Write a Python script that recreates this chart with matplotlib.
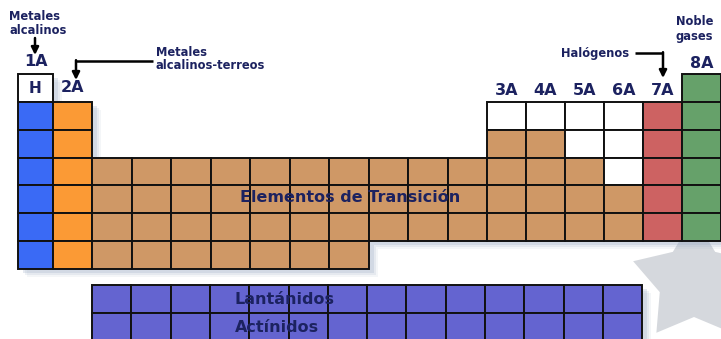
import numpy as np
import matplotlib
matplotlib.use("Agg")
import matplotlib.pyplot as plt
from matplotlib.patches import Rectangle, Polygon

# ---------------- data ----------------
group_labels = ["1A", "2A", "3A", "4A", "5A", "6A", "7A", "8A"]
group_columns = [0, 1, 12, 13, 14, 15, 16, 17]

# category of each cell (period rows x 18 columns)
periods = [
    "w................g",
    "ae..........wwwwxg",
    "ae..........mmwwxg",
    "aettttttttttmmmwxg",
    "aettttttttttmmmmxg",
    "aettttttttttmmmmxg",
    "aettttttt.........",
]
f_block_rows = ["Lantánidos", "Actínidos"]
f_block_cells = 14

category_colors = {
    "w": "#ffffff",  # hydrogen / non-metals
    "a": "#3a6af5",  # alkali metals
    "e": "#fb9a35",  # alkaline earth
    "t": "#cf9866",  # transition
    "m": "#cf9866",  # other metals
    "x": "#cd6262",  # halogens
    "g": "#66a16a",  # noble gases
    "f": "#6464d0",  # lanthanides / actinides
}

# ---------------- layout ----------------
col_widths = [35, 39] + [39.5] * 10 + [39] * 6
col_edges = np.concatenate([[18], 18 + np.cumsum(col_widths)])
row_top = 74
row_h = 27.86
f_left, f_w, f_top, f_h = 92, 39.3, 285, 28.2

text_color = "#1c2260"
FONT = "DejaVu Sans"

fig = plt.figure(figsize=(7.21, 3.39), dpi=100)
ax = fig.add_axes([0, 0, 1, 1])
ax.set_xlim(0, 721)
ax.set_ylim(339, 0)
ax.axis("off")

# background star
cx, cy, R, r = 694, 281, 64, 36
pts = []
for k in range(10):
    ang = np.deg2rad(90 + k * 36)
    rad = R if k % 2 == 0 else r
    pts.append((cx + rad * np.cos(ang), cy - rad * np.sin(ang)))
ax.add_patch(Polygon(pts, closed=True, facecolor="#d5d8dd", edgecolor="none", zorder=0))

def cells():
    for i, row in enumerate(periods):
        for j, c in enumerate(row):
            if c == ".":
                continue
            yield (col_edges[j], row_top + i * row_h, col_edges[j + 1] - col_edges[j], row_h, c)
    for i in range(len(f_block_rows)):
        for j in range(f_block_cells):
            yield (f_left + j * f_w, f_top + i * f_h, f_w, f_h, "f")

cell_list = list(cells())

# soft drop shadow
for dx, dy, a in [(9, 8, 0.10), (7, 6, 0.16), (5, 4, 0.25)]:
    for x, y, w, h, c in cell_list:
        ax.add_patch(Rectangle((x + dx, y + dy), w, h, facecolor="#9aabc4",
                               edgecolor="none", alpha=a, zorder=1))

for x, y, w, h, c in cell_list:
    ax.add_patch(Rectangle((x, y), w, h, facecolor=category_colors[c],
                           edgecolor="#111111", linewidth=1.4, zorder=2))

big = dict(fontweight="bold", color=text_color, family=FONT, zorder=3)

# group labels
for lab, col in zip(group_labels, group_columns):
    xc = (col_edges[col] + col_edges[col + 1]) / 2
    first_row = next(i for i, row in enumerate(periods) if row[col] != ".")
    if lab == "1A":
        yc = 62
    elif lab == "2A":
        yc = 88
    else:
        yc = row_top + first_row * row_h - 11
    ax.text(xc, yc, lab, ha="center", va="center", fontsize=11.5, **big)

ax.text((col_edges[0] + col_edges[1]) / 2, row_top + row_h / 2 + 0.5, "H", ha="center",
        va="center", fontsize=11, **big)

ax.text(350, 198, "Elementos de Transición", ha="center", va="center", fontsize=11.5, **big)
ax.text(285, 299, f_block_rows[0], ha="center", va="center", fontsize=11.5, **big)
ax.text(277, 328, f_block_rows[1], ha="center", va="center", fontsize=11.5, **big)

# annotations
small = dict(fontsize=8.3, fontweight="bold", color=text_color, family=FONT, zorder=3,
             va="baseline")
ax.text(9, 20.5, "Metales", ha="left", **small)
ax.text(9, 34, "alcalinos", ha="left", **small)
ax.text(156, 55.5, "Metales", ha="left", **small)
ax.text(156, 69, "alcalinos-terreos", ha="left", **small)
ax.text(629, 57, "Halógenos", ha="right", **small)
ax.text(676, 25, "Noble", ha="left", **small)
ax.text(676, 40, "gases", ha="left", **small)

arrow = dict(arrowstyle="-|>", color="black", lw=1.8, mutation_scale=11, shrinkA=0, shrinkB=0)
ax.annotate("", xy=(35, 55), xytext=(35, 38), arrowprops=arrow, zorder=3)
ax.plot([153, 76], [61, 61], color="black", lw=1.8, solid_capstyle="butt", zorder=3)
ax.annotate("", xy=(76, 80), xytext=(76, 60.2), arrowprops=arrow, zorder=3)
ax.plot([635, 663], [53, 53], color="black", lw=1.8, solid_capstyle="butt", zorder=3)
ax.annotate("", xy=(663, 78), xytext=(663, 52.2), arrowprops=arrow, zorder=3)

fig.savefig("out.png", dpi=100)
